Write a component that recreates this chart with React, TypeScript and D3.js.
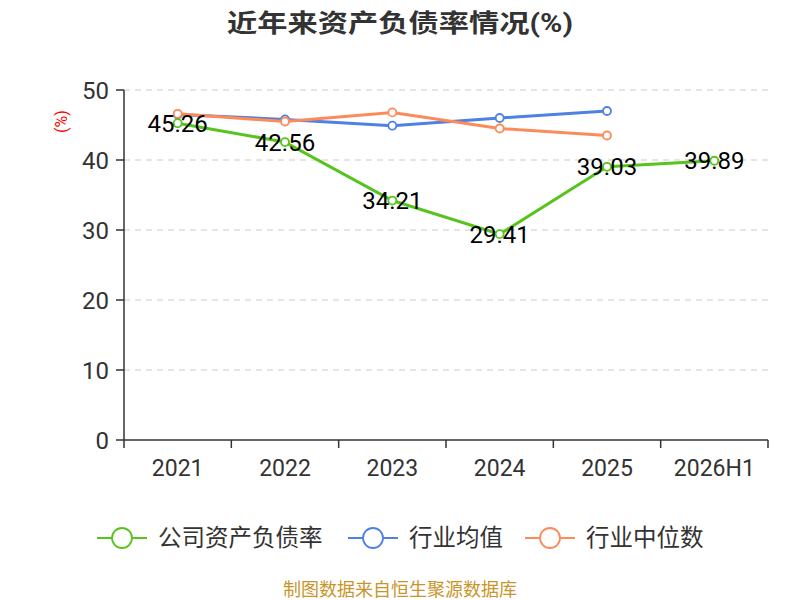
import * as d3 from "d3";

const categories = ["2021", "2022", "2023", "2024", "2025", "2026H1"];
const companyRatio = [45.26, 42.56, 34.21, 29.41, 39.03, 39.89];
const industryAvg = [46.5, 45.8, 44.9, 46.0, 47.0];
const industryMedian = [46.6, 45.5, 46.8, 44.5, 43.5];
const yTicks = [0, 10, 20, 30, 40, 50];

const seriesList = [
  { name: "行业均值", values: industryAvg, color: "#4f80e4", labels: false },
  { name: "行业中位数", values: industryMedian, color: "#fd8b5a", labels: false },
  { name: "公司资产负债率", values: companyRatio, color: "#56c31f", labels: true },
];
const legendOrder = [2, 0, 1];

const W = 800;
const H = 600;
const margin = { top: 90, right: 32, bottom: 160, left: 124 };
const font = "Roboto, 'Noto Sans CJK SC', sans-serif";

export default function App() {
  const x = d3
    .scaleBand<string>()
    .domain(categories)
    .range([margin.left, W - margin.right]);
  const y = d3.scaleLinear().domain([0, 50]).range([H - margin.bottom, margin.top]);
  const cx = (i: number) => (x(categories[i]) ?? 0) + x.bandwidth() / 2;

  const line = d3
    .line<number>()
    .x((_, i) => cx(i))
    .y((d) => y(d));

  const x0 = margin.left;
  const x1 = W - margin.right;
  const y0 = y(0);

  const legendX = [97, 348, 525];

  return (
    <svg
      width={W}
      height={H}
      style={{ position: "absolute", left: 0, top: 0 }}
      fontFamily={font}
    >
      <rect width={W} height={H} fill="#fff" />
      <text
        x={W / 2}
        y={32}
        textAnchor="middle"
        fontSize={25}
        fontWeight="bold"
        fill="#333"
        textLength={346}
        lengthAdjust="spacingAndGlyphs"
      >
        近年来资产负债率情况(%)
      </text>
      <text
        transform={`translate(67,${y(45.5)}) rotate(-90)`}
        textAnchor="middle"
        fontSize={16}
        fill="#ff0000"
      >
        (%)
      </text>

      {/* grid */}
      {yTicks
        .filter((t) => t > 0)
        .map((t) => (
          <line
            key={t}
            x1={x0}
            x2={x1}
            y1={y(t)}
            y2={y(t)}
            stroke="#cccccc"
            strokeDasharray="6,5"
            strokeWidth={1.2}
          />
        ))}

      {/* y axis */}
      <line x1={x0} x2={x0} y1={y(50)} y2={y0} stroke="#333" strokeWidth={1.5} />
      {yTicks.map((t) => (
        <g key={t}>
          <line x1={x0 - 8} x2={x0} y1={y(t)} y2={y(t)} stroke="#333" strokeWidth={1.5} />
          <text x={x0 - 15} y={y(t)} dy="0.36em" textAnchor="end" fontSize={24} fill="#333">
            {t}
          </text>
        </g>
      ))}

      {/* x axis */}
      <line x1={x0} x2={x1} y1={y0} y2={y0} stroke="#333" strokeWidth={1.5} />
      {categories.map((c) => (
        <line
          key={"t" + c}
          x1={x(c)}
          x2={x(c)}
          y1={y0}
          y2={y0 + 8}
          stroke="#333"
          strokeWidth={1.5}
        />
      ))}
      <line x1={x1} x2={x1} y1={y0} y2={y0 + 8} stroke="#333" strokeWidth={1.5} />
      {categories.map((c, i) => (
        <text key={c} x={cx(i)} y={y0 + 36} textAnchor="middle" fontSize={23} fill="#333">
          {c}
        </text>
      ))}

      {/* series */}
      {seriesList.map((s) => (
        <g key={s.name}>
          <path d={line(s.values) ?? ""} fill="none" stroke={s.color} strokeWidth={3} />
          {s.values.map((v, i) => (
            <circle
              key={i}
              cx={cx(i)}
              cy={y(v)}
              r={4}
              fill="#fff"
              stroke={s.color}
              strokeWidth={1.8}
            />
          ))}
        </g>
      ))}
      {seriesList
        .filter((s) => s.labels)
        .map((s) =>
          s.values.map((v, i) => (
            <text
              key={s.name + i}
              x={cx(i)}
              y={y(v)}
              dy="0.36em"
              textAnchor="middle"
              fontSize={24}
              fill="#000"
            >
              {v.toFixed(2)}
            </text>
          ))
        )}

      {/* legend */}
      {legendOrder.map((si, k) => {
        const s = seriesList[si];
        const lx = legendX[k];
        const ly = 538;
        return (
          <g key={s.name}>
            <line x1={lx} x2={lx + 50} y1={ly} y2={ly} stroke={s.color} strokeWidth={2} />
            <circle cx={lx + 25} cy={ly} r={10} fill="#fff" stroke={s.color} strokeWidth={1.8} />
            <text x={lx + 61} y={ly} dy="0.36em" fontSize={23.5} fill="#333">
              {s.name}
            </text>
          </g>
        );
      })}

      <text x={W / 2} y={596} textAnchor="middle" fontSize={18} fill="#c8952b">
        制图数据来自恒生聚源数据库
      </text>
    </svg>
  );
}
